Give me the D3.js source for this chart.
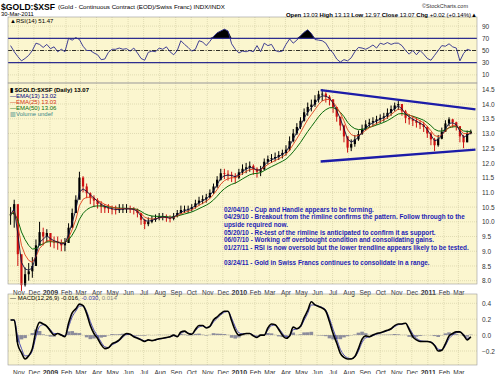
<!DOCTYPE html>
<meta charset="utf-8">
<title>$GOLD:$XSF</title>
<style>
body{margin:0;background:#fff;}
text{font-family:Arial,"Liberation Sans",sans-serif;}
.axis text{font-size:6.5px;fill:#333;}
.axis path,.axis line{display:none;}
.grid line{stroke:#cfc9a0;stroke-dasharray:1,1;stroke-width:0.6;}
.note{font-size:6.4px;font-weight:bold;fill:#1c1cb4;}
</style>
<body>
<script src="https://d3js.org/d3.v7.min.js"></script>
<script>

// weekly samples, first week ending 17-Oct-2008
var firstWeek = new Date(2008, 9, 17);
var closes = [10.25,10.6,8.9,7.85,8.22,8.32,8.5,9.2,9.65,9.5,9.62,9.35,9.3,9.28,9.2,9.28,9.8,10.3,10.75,11.5,
 11.2,10.97,10.82,10.72,10.6,10.52,10.46,10.44,10.42,10.4,10.42,10.44,10.45,10.43,10.41,10.3,10.07,9.92,10.0,10.07,
 10.13,10.18,10.18,10.14,10.1,10.2,10.3,10.4,10.42,10.44,10.5,10.63,10.72,10.77,10.83,10.98,11.2,11.43,11.65,11.63,
 11.6,11.56,11.5,11.68,11.8,11.85,11.9,11.8,11.7,11.78,12.04,12.13,12.16,12.2,12.27,12.34,12.45,12.74,13.0,13.22,
 13.43,13.72,13.9,13.98,14.15,14.33,14.35,14.25,14.16,13.9,13.57,13.27,12.9,12.52,12.64,12.8,12.98,13.16,13.31,13.37,
 13.42,13.48,13.53,13.58,13.7,13.83,13.95,14.0,13.75,13.53,13.48,13.43,13.36,13.3,13.22,13.0,12.8,12.6,12.82,13.06,
 13.34,13.48,13.38,13.25,12.9,12.7,13.0,13.07];
var highs = [10.5,10.75,9.9,8.5,8.45,8.6,8.8,9.4,10.0,9.8,9.75,9.6,9.5,9.5,9.4,9.45,9.95,10.45,10.9,11.7,
 11.55,11.3,11.0,10.9,10.8,10.7,10.6,10.6,10.55,10.55,10.6,10.6,10.6,10.55,10.5,10.45,10.3,10.1,10.15,10.2,
 10.25,10.3,10.3,10.25,10.22,10.3,10.4,10.55,10.55,10.55,10.6,10.75,10.85,10.9,10.95,11.1,11.3,11.55,11.8,11.8,
 11.75,11.7,11.65,11.8,11.95,12.0,12.05,11.95,11.85,11.9,12.15,12.25,12.3,12.35,12.4,12.45,12.6,12.9,13.15,13.35,
 13.55,13.85,14.05,14.15,14.3,14.45,14.5,14.4,14.3,14.15,13.85,13.55,13.3,12.9,12.8,12.95,13.1,13.3,13.45,13.5,
 13.55,13.6,13.65,13.7,13.85,13.95,14.05,14.1,14.0,13.8,13.65,13.6,13.55,13.45,13.4,13.25,13.05,12.85,12.95,13.2,
 13.45,13.55,13.5,13.4,13.2,12.95,13.1,13.13];
var lows = [9.9,9.8,8.5,7.65,7.8,8.0,8.1,8.6,9.3,9.2,9.3,9.15,9.1,9.05,9.0,9.0,9.3,9.8,10.3,10.8,
 11.0,10.8,10.6,10.5,10.45,10.3,10.3,10.3,10.25,10.25,10.3,10.3,10.3,10.3,10.25,10.15,9.9,9.75,9.85,9.95,
 10.0,10.05,10.05,10.0,9.98,10.05,10.15,10.25,10.3,10.3,10.35,10.45,10.55,10.6,10.65,10.8,10.95,11.15,11.4,11.45,
 11.4,11.35,11.3,11.45,11.6,11.65,11.7,11.6,11.5,11.55,11.75,11.95,12.0,12.05,12.1,12.15,12.25,12.4,12.7,12.95,
 13.15,13.4,13.6,13.75,13.9,14.05,14.1,14.05,13.95,13.7,13.4,13.1,12.7,12.35,12.4,12.55,12.75,12.95,13.1,13.2,
 13.25,13.3,13.35,13.4,13.5,13.6,13.75,13.8,13.6,13.35,13.3,13.25,13.2,13.15,13.05,12.85,12.6,12.4,12.55,12.8,
 13.05,13.25,13.2,13.1,12.7,12.5,12.7,12.97];
var rsi = [58,48,40,33,37,42,50,62,60,55,60,53,56,48,52,48,70,67,71,68,
 57,50,50,46,43,35,36,47,52,52,54,52,53,49,54,46,37,34,47,49,
 48,54,52,56,48,43,50,66,60,55,49,52,66,64,58,65,73,79,82,85,
 82,61,52,46,49,48,50,48,58,48,62,58,60,50,48,49,60,69,62,67,
 74,80,84,78,68,67,66,62,52,46,36,31,35,33,38,48,55,54,52,55,
 59,54,62,60,63,60,62,62,58,50,44,50,43,50,44,37,34,42,50,58,
 57,61,56,54,33,45,52,50];
var macd = [0.19,0.19,-0.12,-0.22,-0.3,-0.26,-0.17,0.05,0.16,0.14,0.11,0.05,0.0,0.02,0.0,-0.02,0.15,0.28,0.33,0.39,
 0.37,0.27,0.12,0.02,-0.04,-0.12,-0.17,-0.16,-0.11,-0.09,-0.06,-0.01,0.02,0.01,-0.02,-0.04,-0.06,-0.08,-0.06,-0.07,
 -0.06,-0.045,-0.04,-0.03,-0.02,0.0,-0.02,0.04,0.05,0.02,0.01,0.07,0.12,0.12,0.09,0.11,0.19,0.23,0.27,0.3,
 0.3,0.18,0.06,0.0,0.01,0.02,0.02,-0.01,-0.03,0.0,0.0,0.09,0.14,0.13,0.07,0.0,-0.04,-0.01,0.1,0.08,
 0.11,0.22,0.31,0.42,0.38,0.36,0.34,0.3,0.17,0.02,-0.1,-0.23,-0.28,-0.3,-0.3,-0.27,-0.17,-0.05,-0.01,-0.02,
 0.0,0.02,0.03,0.045,0.06,0.08,0.12,0.14,0.14,0.15,0.07,-0.02,-0.06,-0.08,-0.08,-0.08,-0.09,-0.13,-0.2,-0.19,
 -0.11,-0.01,0.02,0.04,0.04,0.0,-0.06,-0.02];

var priceTicks = [8,8.5,9,9.5,10,10.5,11,11.5,12,12.5,13,13.5,14,14.5];
var rsiTicks = [10,30,50,70,90];
var macdTicks = [-0.2,0,0.2,0.4];
var trendUpper = [[new Date(2010,5,8),14.47],[new Date(2011,3,3),13.82]];
var trendLower = [[new Date(2010,5,8),12.05],[new Date(2011,3,3),12.45]];
var notes = ["02/04/10 - Cup and Handle appears to be forming.",
 "04/29/10 - Breakout from the rimline confirms the pattern.  Follow through to the",
 "upside required now.",
 "05/20/10 - Re-test of the rimline is anticipated to confirm it as support.",
 "06/07/10 - Working off overbought condition and consolidating gains.",
 "01/27/11 - RSI is now oversold but the lower trendline appears likely to be tested.",
 "",
 "03/24/11 - Gold in Swiss Francs continues to consolidate in a range."];

var dates = closes.map((d,i)=>d3.timeDay.offset(firstWeek, 7*i));

function ema(arr, a){
	var e = arr[0];
	return arr.map(function(v,i){ e = i ? a*v + (1-a)*e : v; return e; });
}
var ema13 = ema(closes, 2/(13/5+1)),
	ema25 = ema(closes, 2/(25/5+1)),
	ema50 = ema(closes, 2/(50/5+1));
var signal = ema(macd, 2/(9/5+1));

var W = 500, H = 374, L = 8, R = 477;
var rsiP = {t:17, b:83}, priceP = {t:83, b:284}, macdP = {t:294, b:365};

var svg = d3.select("body").append("svg").attr("width", W).attr("height", H);

var x = d3.scaleTime().domain([new Date(2008,9,12), new Date(2011,3,6)]).range([L, R]);
var yP = d3.scaleLinear().domain([8, 14.5]).range([280.7, 89.3]);
var yR = d3.scaleLinear().domain([30, 70]).range([62.7, 38.3]);
var yM = d3.scaleLinear().domain([-0.2, 0.4]).range([351, 303.3]);

var months = d3.timeMonth.range(new Date(2008,10,1), new Date(2011,3,1));
var fmtM = d3.timeFormat("%b"), fmtY = d3.timeFormat("%Y");

function panel(p, y, ticks){
	var g = svg.append("g");
	g.append("rect").attr("x",L).attr("y",p.t).attr("width",R-L).attr("height",p.b-p.t)
		.attr("fill","#fbf6cf");
	var gr = g.append("g").attr("class","grid");
	gr.selectAll(".v").data(months).enter().append("line")
		.attr("x1",d=>x(d)).attr("x2",d=>x(d)).attr("y1",p.t).attr("y2",p.b);
	gr.selectAll(".h").data(ticks.filter(t=>y(t)>p.t && y(t)<p.b)).enter().append("line")
		.attr("x1",L).attr("x2",R).attr("y1",d=>y(d)).attr("y2",d=>y(d));
	svg.append("g").attr("class","axis").attr("transform","translate("+(R+2)+",0)")
		.call(d3.axisRight(y).tickValues(ticks).tickSize(0).tickFormat(p.fmt))
		.selectAll("text").attr("dy","0.32em");
	return g;
}
rsiP.fmt = d3.format("d");
priceP.fmt = d3.format(".1f");
macdP.fmt = d3.format(".1f");

var gR = panel(rsiP, yR, rsiTicks);
var gP = panel(priceP, yP, priceTicks);
var gM = panel(macdP, yM, macdTicks);

// month labels under price and macd panels
[priceP.b + 8, macdP.b + 6.5].forEach(function(ty){
	svg.append("g").attr("class","axis").attr("transform","translate(0,"+ty+")")
		.call(d3.axisBottom(x).tickValues(months).tickSize(0)
			.tickFormat(d=>d.getMonth()==0 ? fmtY(d) : fmtM(d)))
		.selectAll("text").attr("dy","0").style("font-weight",d=>d.getMonth()==0?"bold":"normal")
		.style("font-size",d=>d.getMonth()==0?"7px":"6.5px");
});

// ---- RSI ----
var clipR = svg.append("clipPath").attr("id","over").append("rect")
	.attr("x",L).attr("y",rsiP.t).attr("width",R-L).attr("height",yR(70)-rsiP.t);
var rsiArea = d3.area().x((d,i)=>x(dates[i])).y0(yR(70)).y1(d=>yR(Math.max(d,70)));
gR.append("path").attr("d",rsiArea(rsi)).attr("fill","#000").attr("clip-path","url(#over)");
[70,30].forEach(function(v){
	gR.append("line").attr("x1",L).attr("x2",R).attr("y1",yR(v)).attr("y2",yR(v))
		.attr("stroke","#2e2e90").attr("stroke-width",1.3);
});
gR.append("line").attr("x1",L).attr("x2",R).attr("y1",yR(50)).attr("y2",yR(50))
	.attr("stroke","#000").attr("stroke-width",0.8).attr("stroke-dasharray","4,1.5,1,1.5");
gR.append("path").attr("d",d3.line().x((d,i)=>x(dates[i])).y(d=>yR(d))(rsi))
	.attr("fill","none").attr("stroke","#2b2b8c").attr("stroke-width",0.9);

// ---- Price ----
var bw = 2.2;
closes.forEach(function(c,i){
	var o = i ? closes[i-1] : c, col = c >= o ? "#000" : "#cc1010";
	gP.append("line").attr("x1",x(dates[i])).attr("x2",x(dates[i]))
		.attr("y1",yP(highs[i])).attr("y2",yP(lows[i])).attr("stroke",col).attr("stroke-width",1);
	gP.append("rect").attr("x",x(dates[i])-bw/2).attr("width",bw)
		.attr("y",yP(Math.max(o,c))).attr("height",Math.max(0.8,Math.abs(yP(o)-yP(c)))).attr("fill",col);
});
var eLine = d3.line().x((d,i)=>x(dates[i])).y(d=>yP(d));
gP.append("path").attr("d",eLine(ema50)).attr("fill","none").attr("stroke","#0a6a0a").attr("stroke-width",1);
gP.append("path").attr("d",eLine(ema25)).attr("fill","none").attr("stroke","#e0401c").attr("stroke-width",0.9);
gP.append("path").attr("d",eLine(ema13)).attr("fill","none").attr("stroke","#101040").attr("stroke-width",0.9);
[trendUpper, trendLower].forEach(function(t){
	gP.append("line").attr("x1",x(t[0][0])).attr("y1",yP(t[0][1]))
		.attr("x2",x(t[1][0])).attr("y2",yP(t[1][1]))
		.attr("stroke","#1c1ca8").attr("stroke-width",2.4);
});
gP.selectAll(".note").data(notes).enter().append("text").attr("class","note")
	.attr("x",224).attr("y",(d,i)=>211.5+i*7.7).text(d=>d);

// ---- MACD ----
var hw = x(dates[1]) - x(dates[0]);
gM.selectAll(".hist").data(macd).enter().append("rect")
	.attr("x",(d,i)=>x(dates[i])-hw/2).attr("width",hw)
	.attr("y",(d,i)=>yM(Math.max(0,d-signal[i])))
	.attr("height",(d,i)=>Math.abs(yM(d-signal[i])-yM(0)))
	.attr("fill","#8c8c9c");
var mLine = d3.line().x((d,i)=>x(dates[i])).y(d=>yM(d)).curve(d3.curveMonotoneX);
gM.append("path").attr("d",mLine(signal)).attr("fill","none").attr("stroke","#3a3ab0").attr("stroke-width",0.9);
gM.append("path").attr("d",mLine(macd)).attr("fill","none").attr("stroke","#000").attr("stroke-width",1.6);

// panel borders
[rsiP, priceP, macdP].forEach(function(p){
	svg.append("rect").attr("x",L).attr("y",p.t).attr("width",R-L).attr("height",p.b-p.t)
		.attr("fill","none").attr("stroke","#9a9a9a").attr("stroke-width",0.6);
});

// ---- legends & header ----
function legend(xx, yy, parts){
	var t = svg.append("text").attr("x",xx).attr("y",yy).style("font-size","6px");
	parts.forEach(p=>t.append("tspan").text(p[0]).attr("fill",p[1]||"#000")
		.style("font-weight",p[2]?"bold":"normal"));
	return t;
}
svg.append("text").attr("x",1).attr("y",9.5).text("$GOLD:$XSF")
	.attr("textLength",54).attr("lengthAdjust","spacingAndGlyphs")
	.style("font-size","9.5px").style("font-weight","bold");
legend(58, 9, [["(Gold - Continuous Contract (EOD)/Swiss Franc) INDX/INDX"]]).style("font-size","6.2px");
legend(1, 16, [["30-Mar-2011"]]).style("font-size","5.8px");
svg.append("text").attr("x",468).attr("y",7.5).attr("text-anchor","end").text("©StockCharts.com")
	.style("font-size","5.5px").attr("fill","#333");
legend(477, 16.5, [["Open",0,1],[" 13.03 "],["High",0,1],[" 13.13 "],["Low",0,1],[" 12.97 "],
	["Close",0,1],[" 13.07 "],["Chg",0,1],[" +0.02 (+0.14%)"],["▲","#000"]]).attr("text-anchor","end");

legend(10, 23, [["▲","#000"],["RSI(14) 51.47"]]);
legend(10, 92, [["▮ $GOLD:$XSF (Daily) 13.07",0,1]]);
legend(10, 98, [["—EMA(13) 13.02","#000080"]]);
legend(10, 104, [["—EMA(25) 13.03","#d03010"]]);
legend(10, 110, [["—EMA(50) 13.06","#0a6a0a"]]);
legend(10, 116, [["▥Volume undef","#3a8a8a"]]);
legend(10, 300, [["—","#000"],[" MACD(12,26,9) -0.016, "],["-0.030","#3a3ab0"],[", "],["0.014","#888"]]);

</script>
</body>
